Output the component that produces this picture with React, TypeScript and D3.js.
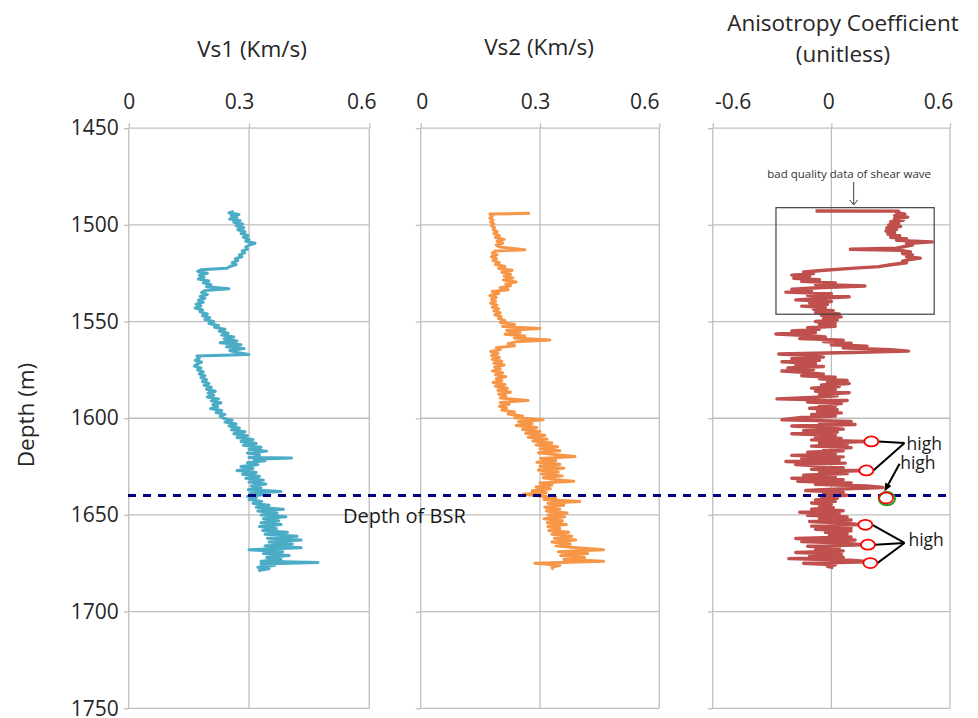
import { useEffect, useRef } from 'react';
import * as d3 from 'd3';

// [depth (m), value]
const vs1Data: [number, number][] = [
  [1493.0,0.262],[1493.8,0.250],[1494.6,0.275],[1495.4,0.256],[1496.2,0.270],[1497.0,0.252],[1497.8,0.278],[1498.6,0.262],
  [1499.5,0.284],[1500.5,0.268],[1501.5,0.287],[1502.5,0.272],[1503.5,0.290],[1504.5,0.280],[1505.5,0.298],[1506.5,0.286],
  [1507.5,0.300],[1508.5,0.292],[1509.5,0.315],[1510.5,0.300],[1511.5,0.292],[1512.5,0.296],[1513.5,0.283],[1514.5,0.289],
  [1515.5,0.276],[1516.5,0.282],[1517.5,0.266],[1518.5,0.272],[1519.5,0.258],[1520.5,0.268],[1521.5,0.252],[1522.4,0.245],
  [1523.2,0.180],[1524.0,0.172],[1525.0,0.196],[1526.0,0.176],[1527.0,0.188],[1528.0,0.174],[1529.0,0.200],[1530.0,0.186],
  [1531.0,0.205],[1532.0,0.194],[1533.0,0.250],[1534.0,0.190],[1535.0,0.182],[1536.0,0.196],[1537.0,0.178],[1538.0,0.190],
  [1539.0,0.174],[1540.0,0.186],[1541.0,0.168],[1542.0,0.180],[1543.0,0.166],[1544.0,0.184],[1545.0,0.178],[1546.0,0.196],
  [1547.0,0.184],[1548.0,0.202],[1549.0,0.190],[1550.0,0.212],[1551.0,0.200],[1552.0,0.224],[1553.0,0.214],[1554.0,0.240],
  [1555.0,0.226],[1556.0,0.248],[1557.0,0.232],[1558.0,0.262],[1559.0,0.238],[1560.0,0.270],[1561.0,0.228],[1562.0,0.280],
  [1563.0,0.244],[1564.0,0.288],[1565.0,0.252],[1566.0,0.270],[1567.0,0.300],[1567.8,0.170],[1569.0,0.176],[1570.0,0.166],
  [1571.0,0.182],[1572.0,0.170],[1573.0,0.164],[1574.0,0.180],[1575.0,0.172],[1576.0,0.186],[1577.0,0.176],[1578.0,0.190],
  [1579.0,0.180],[1580.0,0.194],[1581.0,0.184],[1582.0,0.200],[1583.0,0.188],[1584.0,0.206],[1585.0,0.194],[1586.0,0.216],
  [1587.0,0.198],[1588.0,0.212],[1589.0,0.196],[1590.0,0.224],[1591.0,0.206],[1592.0,0.230],[1593.0,0.210],[1594.0,0.222],
  [1595.0,0.204],[1596.0,0.232],[1597.0,0.218],[1598.0,0.240],[1599.0,0.228],[1600.0,0.236],[1601.0,0.258],[1602.0,0.240],
  [1603.0,0.268],[1604.0,0.250],[1605.0,0.276],[1606.0,0.256],[1607.0,0.290],[1608.0,0.262],[1609.0,0.296],[1610.0,0.270],
  [1611.0,0.310],[1612.0,0.280],[1613.0,0.318],[1614.0,0.286],[1615.0,0.330],[1616.0,0.300],[1617.0,0.344],[1618.0,0.296],
  [1619.0,0.326],[1620.3,0.300],[1620.6,0.406],[1621.2,0.312],[1622.0,0.340],[1623.0,0.296],[1624.0,0.322],[1625.0,0.280],
  [1626.0,0.310],[1627.0,0.270],[1628.0,0.318],[1629.0,0.284],[1630.0,0.326],[1631.0,0.292],[1632.0,0.336],[1633.0,0.300],
  [1634.0,0.342],[1635.0,0.306],[1636.0,0.330],[1637.0,0.298],[1637.9,0.380],[1638.8,0.304],[1639.6,0.334],[1640.4,0.296],
  [1641.2,0.318],[1642.0,0.300],[1643.0,0.332],[1644.0,0.310],[1645.0,0.350],[1646.0,0.318],[1647.0,0.386],[1648.0,0.322],
  [1649.0,0.370],[1650.0,0.330],[1651.0,0.392],[1652.0,0.336],[1653.0,0.374],[1654.0,0.330],[1655.0,0.380],[1656.0,0.326],
  [1657.0,0.368],[1658.0,0.334],[1659.0,0.396],[1660.0,0.340],[1661.0,0.420],[1662.0,0.346],[1663.0,0.430],[1664.0,0.350],
  [1665.0,0.408],[1666.0,0.340],[1667.0,0.430],[1668.0,0.300],[1669.0,0.384],[1670.0,0.336],[1671.0,0.400],[1672.0,0.344],
  [1673.0,0.380],[1674.0,0.330],[1674.6,0.472],[1675.4,0.330],[1676.2,0.364],[1677.0,0.322],[1677.8,0.350],[1678.6,0.326],
  [1679.2,0.330]
];

const vs2Data: [number, number][] = [
  [1494.0,0.275],[1494.4,0.174],[1495.5,0.180],[1496.5,0.174],[1497.5,0.182],[1498.5,0.176],[1499.5,0.184],[1500.5,0.178],
  [1501.5,0.186],[1502.5,0.182],[1503.5,0.192],[1504.5,0.184],[1505.5,0.198],[1506.5,0.188],[1507.5,0.210],[1508.5,0.192],
  [1509.5,0.206],[1510.5,0.190],[1511.5,0.200],[1512.8,0.262],[1513.5,0.188],[1514.5,0.180],[1515.5,0.192],[1516.5,0.178],
  [1517.5,0.190],[1518.5,0.182],[1519.5,0.198],[1520.5,0.188],[1521.5,0.212],[1522.5,0.196],[1523.5,0.230],[1524.5,0.204],
  [1525.5,0.226],[1526.5,0.210],[1527.5,0.232],[1528.5,0.208],[1529.5,0.240],[1530.5,0.214],[1531.5,0.226],[1532.5,0.200],
  [1533.5,0.220],[1534.5,0.180],[1535.5,0.196],[1536.5,0.174],[1537.5,0.190],[1538.5,0.178],[1539.5,0.188],[1540.5,0.176],
  [1541.5,0.192],[1542.5,0.180],[1543.5,0.196],[1544.5,0.184],[1545.5,0.200],[1546.5,0.186],[1547.5,0.202],[1548.5,0.196],
  [1549.5,0.212],[1550.5,0.200],[1551.5,0.236],[1552.5,0.206],[1553.6,0.300],[1554.5,0.216],[1555.5,0.250],[1556.5,0.212],
  [1557.5,0.262],[1558.5,0.236],[1559.5,0.325],[1560.5,0.240],[1561.5,0.220],[1562.5,0.236],[1563.5,0.190],[1564.5,0.200],
  [1565.5,0.176],[1566.5,0.194],[1567.5,0.178],[1568.5,0.198],[1569.5,0.180],[1570.5,0.204],[1571.5,0.184],[1572.5,0.210],
  [1573.5,0.186],[1574.5,0.200],[1575.5,0.180],[1576.5,0.206],[1577.5,0.188],[1578.5,0.214],[1579.5,0.190],[1580.5,0.204],
  [1581.5,0.182],[1582.5,0.212],[1583.5,0.188],[1584.5,0.218],[1585.5,0.194],[1586.5,0.226],[1587.5,0.196],[1588.5,0.214],
  [1589.5,0.200],[1590.8,0.270],[1591.8,0.200],[1592.8,0.222],[1593.8,0.198],[1594.8,0.216],[1595.8,0.204],[1596.8,0.236],
  [1597.8,0.220],[1598.8,0.256],[1599.8,0.236],[1600.8,0.308],[1601.8,0.246],[1602.8,0.280],[1603.8,0.240],[1604.8,0.292],
  [1605.8,0.256],[1606.8,0.300],[1607.8,0.264],[1608.8,0.312],[1609.8,0.270],[1610.8,0.318],[1611.8,0.282],[1612.8,0.330],
  [1613.8,0.290],[1614.8,0.344],[1615.8,0.300],[1616.8,0.350],[1617.8,0.296],[1618.8,0.336],[1619.8,0.388],[1620.8,0.302],
  [1621.8,0.340],[1622.8,0.292],[1623.8,0.350],[1624.8,0.300],[1625.8,0.360],[1626.8,0.296],[1627.8,0.346],[1628.8,0.304],
  [1629.8,0.356],[1630.8,0.308],[1631.8,0.340],[1632.6,0.385],[1633.5,0.300],[1634.5,0.330],[1635.5,0.290],[1636.5,0.326],
  [1637.5,0.280],[1638.5,0.316],[1639.3,0.258],[1640.2,0.300],[1641.0,0.340],[1642.0,0.310],[1643.0,0.400],[1644.0,0.320],
  [1645.0,0.360],[1646.0,0.312],[1647.0,0.350],[1648.0,0.316],[1649.0,0.368],[1650.0,0.320],[1651.0,0.362],[1652.0,0.310],
  [1653.0,0.356],[1654.0,0.318],[1655.0,0.366],[1656.0,0.320],[1657.0,0.350],[1658.0,0.322],[1659.0,0.372],[1660.0,0.330],
  [1661.0,0.380],[1662.0,0.336],[1663.0,0.390],[1664.0,0.330],[1665.0,0.376],[1666.0,0.340],[1667.0,0.392],[1668.0,0.460],
  [1669.0,0.346],[1670.0,0.420],[1671.0,0.352],[1672.0,0.412],[1673.0,0.360],[1674.0,0.460],[1675.0,0.287],[1676.0,0.350],
  [1677.0,0.330],[1678.3,0.334]
];

const anisoData: [number, number][] = [
  [1492.8,-0.080],[1492.9,0.340],[1493.6,0.330],[1494.4,0.372],[1495.2,0.320],[1496.0,0.386],[1496.8,0.318],[1497.6,0.364],
  [1498.4,0.300],[1499.2,0.340],[1500.0,0.290],[1500.8,0.350],[1501.6,0.280],[1502.4,0.330],[1503.2,0.276],[1504.0,0.320],
  [1504.8,0.286],[1505.6,0.346],[1506.4,0.300],[1507.2,0.380],[1508.0,0.330],[1508.8,0.510],[1509.6,0.380],[1510.4,0.410],
  [1511.2,0.370],[1512.0,0.330],[1512.6,0.096],[1513.2,0.350],[1514.0,0.400],[1514.8,0.360],[1515.6,0.410],[1516.4,0.380],
  [1517.2,0.450],[1518.0,0.396],[1518.8,0.360],[1519.6,0.380],[1520.6,0.300],[1521.6,0.240],[1522.6,0.080],[1523.6,-0.050],
  [1524.4,-0.140],[1525.2,-0.090],[1526.0,-0.200],[1526.8,-0.110],[1527.6,-0.190],[1528.4,-0.060],[1529.2,-0.150],[1530.0,0.020],
  [1530.8,-0.080],[1531.6,0.170],[1532.4,-0.040],[1533.2,-0.200],[1534.0,-0.100],[1534.8,-0.230],[1535.6,0.000],[1536.4,-0.120],
  [1537.2,0.090],[1538.0,-0.060],[1538.8,-0.180],[1539.6,0.000],[1540.4,-0.110],[1541.2,-0.020],[1542.0,-0.150],[1542.8,-0.030],
  [1543.6,-0.090],[1544.4,0.010],[1545.2,-0.080],[1546.0,0.040],[1546.8,-0.050],[1547.6,0.050],[1548.4,-0.040],[1549.2,0.030],
  [1550.0,-0.080],[1550.8,0.020],[1551.6,-0.060],[1552.4,0.020],[1553.2,-0.120],[1554.0,-0.060],[1554.8,-0.200],[1555.6,-0.080],
  [1556.4,-0.280],[1557.2,-0.120],[1558.0,-0.030],[1558.8,-0.160],[1559.6,0.060],[1560.4,-0.040],[1561.2,0.100],[1562.0,0.000],
  [1562.8,0.180],[1563.6,0.060],[1564.6,0.300],[1565.3,0.390],[1566.0,0.100],[1566.8,-0.266],[1567.6,-0.100],[1568.4,-0.040],
  [1569.2,-0.200],[1570.0,-0.060],[1570.8,-0.250],[1571.6,-0.080],[1572.4,-0.180],[1573.2,-0.040],[1574.0,-0.220],[1574.8,-0.090],
  [1575.6,-0.250],[1576.4,-0.120],[1577.2,-0.040],[1578.0,-0.150],[1578.8,0.020],[1579.6,-0.060],[1580.4,0.080],[1581.2,-0.020],
  [1582.0,0.090],[1582.8,-0.050],[1583.6,0.040],[1584.4,-0.100],[1585.2,0.020],[1586.0,-0.080],[1586.8,0.090],[1587.6,-0.060],
  [1588.4,0.030],[1589.2,-0.100],[1590.0,-0.275],[1590.8,0.080],[1591.6,-0.120],[1592.4,0.050],[1593.2,-0.060],[1594.0,0.020],
  [1594.8,-0.110],[1595.6,0.030],[1596.4,-0.070],[1597.2,0.050],[1598.0,-0.100],[1598.8,0.020],[1599.6,-0.150],[1600.8,-0.250],
  [1601.6,0.100],[1602.4,-0.060],[1603.2,0.120],[1604.0,-0.200],[1604.8,-0.040],[1605.6,0.060],[1606.4,-0.140],[1607.2,0.030],
  [1608.0,-0.200],[1608.8,0.020],[1609.6,-0.080],[1610.4,0.050],[1611.2,-0.100],[1612.0,0.170],[1612.8,-0.060],[1613.6,0.080],
  [1614.4,-0.100],[1615.2,0.100],[1616.0,-0.040],[1616.8,0.060],[1617.6,-0.120],[1618.4,0.020],[1619.2,-0.200],[1620.0,0.060],
  [1620.8,-0.150],[1621.6,0.040],[1622.4,-0.230],[1623.2,0.070],[1624.0,-0.180],[1624.8,-0.020],[1625.6,0.060],[1626.4,-0.100],
  [1627.0,0.170],[1627.8,-0.060],[1628.6,0.080],[1629.4,-0.140],[1630.2,0.020],[1631.0,-0.200],[1631.8,0.060],[1632.6,-0.170],
  [1633.4,0.100],[1634.2,-0.080],[1635.0,0.180],[1635.8,0.260],[1636.6,0.040],[1637.4,-0.130],[1638.2,0.060],[1639.0,-0.040],
  [1639.8,0.080],[1640.6,-0.050],[1641.4,0.030],[1642.2,-0.080],[1643.0,0.020],[1643.8,-0.100],[1644.6,0.000],[1645.4,-0.060],
  [1646.2,0.010],[1647.0,-0.100],[1647.8,0.060],[1648.6,-0.160],[1649.4,0.040],[1650.2,-0.120],[1651.0,0.080],[1651.8,-0.060],
  [1652.6,0.100],[1653.4,-0.110],[1654.2,0.060],[1655.0,0.150],[1655.8,-0.100],[1656.6,0.100],[1657.4,-0.080],[1658.2,0.100],
  [1659.0,-0.030],[1659.8,0.080],[1660.6,-0.010],[1661.4,0.100],[1662.2,-0.180],[1663.0,0.120],[1663.8,-0.150],[1664.6,0.060],
  [1665.4,0.160],[1666.2,-0.120],[1667.0,0.040],[1667.8,-0.080],[1668.6,0.060],[1669.4,-0.180],[1670.2,0.050],[1671.0,-0.110],
  [1671.8,0.060],[1672.6,-0.215],[1673.4,0.100],[1674.2,0.190],[1675.0,-0.140],[1675.8,0.020],[1676.6,-0.020],[1677.2,0.010]
];

const depthTicks = [1450, 1500, 1550, 1600, 1650, 1700, 1750];
const velTicks = [0, 0.3, 0.6];
const anisoTicks = [-0.6, 0, 0.6];
const bsrDepth = 1640;

// "high" markers on the anisotropy log: [value, depth]
const highPoints: [number, number][] = [[0.202, 1612.0], [0.177, 1627.0], [0.172, 1655.1], [0.185, 1665.4], [0.197, 1674.9]];
const bsrHighPoint: [number, number] = [0.281, 1641.6];

const FONT = '"Open Sans", sans-serif';
const GRID = '#bfbfbf';

const App = () => {
  const svgRef = useRef<SVGSVGElement>(null);

  useEffect(() => {
    if (!svgRef.current) return;
    const svg = d3.select(svgRef.current);
    svg.selectAll('*').remove();

    const y = d3.scaleLinear().domain([1450, 1750]).range([128.2, 708.3]);

    const panels = [
      { title: ['Vs1 (Km/s)'], titleX: 252, titleY: [57], domain: [0, 0.6], ticks: velTicks,
        range: [128.7, 369.3], data: vs1Data, color: '#4bacc6', labels: true, dx: [0, -10, -8], width: 3 },
      { title: ['Vs2 (Km/s)'], titleX: 539, titleY: [55], domain: [0, 0.6], ticks: velTicks,
        range: [420.7, 659.3], data: vs2Data, color: '#f79646', labels: false, dx: [1, -5, -15], width: 3 },
      { title: ['Anisotropy Coefficient', '(unitless)'], titleX: 843, titleY: [31, 62], domain: [-0.6, 0.6], ticks: anisoTicks,
        range: [712.7, 950], data: anisoData, color: '#c0504d', labels: false, dx: [20, -3, -12], width: 3.4 }
    ];

    const scales: d3.ScaleLinear<number, number>[] = [];

    panels.forEach(p => {
      const x = d3.scaleLinear().domain(p.domain).range(p.range);
      scales.push(x);
      const g = svg.append('g');

      // Grid
      g.selectAll('.hgrid')
        .data(depthTicks)
        .join('line')
        .attr('x1', p.range[0]).attr('x2', p.range[1])
        .attr('y1', d => y(d)).attr('y2', d => y(d))
        .attr('stroke', GRID).attr('stroke-width', 1.3);
      g.selectAll('.vgrid')
        .data(p.ticks)
        .join('line')
        .attr('x1', d => x(d)).attr('x2', d => x(d))
        .attr('y1', y(1450)).attr('y2', y(1750))
        .attr('stroke', GRID).attr('stroke-width', 1.3);

      // Top axis
      const top = g.append('g')
        .attr('transform', `translate(0,${y(1450)})`)
        .call(d3.axisTop(x).tickValues(p.ticks).tickSize(5).tickPadding(14).tickFormat(d => String(+d)));
      top.select('.domain').remove();
      top.selectAll('.tick line').attr('stroke', GRID).attr('stroke-width', 1.3);
      top.selectAll('.tick text')
        .attr('dx', (_d, i) => p.dx[i])
        .style('font-family', FONT).style('font-size', '21px').attr('fill', '#262626');

      // Left axis
      const left = g.append('g')
        .attr('transform', `translate(${p.range[0]},0)`)
        .call(d3.axisLeft(y).tickValues(depthTicks).tickSize(5).tickPadding(5).tickFormat(d => String(+d)));
      left.select('.domain').remove();
      left.selectAll('.tick line').attr('stroke', GRID).attr('stroke-width', 1.3);
      if (p.labels) {
        left.selectAll('.tick text')
          .style('font-family', FONT).style('font-size', '21px').attr('fill', '#262626');
      } else {
        left.selectAll('.tick text').remove();
      }

      // Title
      p.title.forEach((t, i) => {
        g.append('text')
          .attr('x', p.titleX).attr('y', p.titleY[i])
          .attr('text-anchor', 'middle')
          .style('font-family', FONT).style('font-size', '22.5px')
          .attr('fill', '#262626')
          .text(t);
      });

      // Log curve
      const line = d3.line<[number, number]>()
        .x(d => x(d[1]))
        .y(d => y(d[0]));
      g.append('path')
        .datum(p.data)
        .attr('fill', 'none')
        .attr('stroke', p.color)
        .attr('stroke-width', p.width)
        .attr('stroke-linejoin', 'round')
        .attr('d', line);
    });

    // Depth label
    svg.append('text')
      .attr('transform', `translate(34,415) rotate(-90)`)
      .attr('text-anchor', 'middle')
      .style('font-family', FONT).style('font-size', '22.5px')
      .attr('fill', '#262626')
      .text('Depth (m)');

    // BSR line
    svg.append('line')
      .attr('x1', 128).attr('x2', 950)
      .attr('y1', y(bsrDepth)).attr('y2', y(bsrDepth))
      .attr('stroke', '#000080').attr('stroke-width', 3)
      .attr('stroke-dasharray', '8 7');
    svg.append('text')
      .attr('x', 343).attr('y', y(bsrDepth) + 27.5)
      .style('font-family', FONT).style('font-size', '20px')
      .attr('fill', '#1a1a1a')
      .text('Depth of BSR');

    // Annotations on anisotropy panel
    const xa = scales[2];
    const ann = svg.append('g');

    ann.append('rect')
      .attr('x', xa(-0.28)).attr('y', y(1491.1))
      .attr('width', xa(0.52) - xa(-0.28)).attr('height', y(1546.2) - y(1491.1))
      .attr('fill', 'none').attr('stroke', '#404040').attr('stroke-width', 1.2);
    ann.append('text')
      .attr('x', xa(0.09)).attr('y', y(1475.8))
      .attr('text-anchor', 'middle')
      .style('font-family', FONT).style('font-size', '11.5px')
      .attr('fill', '#333')
      .text('bad quality data of shear wave');
    ann.append('line')
      .attr('x1', xa(0.113)).attr('x2', xa(0.113))
      .attr('y1', y(1477.8)).attr('y2', y(1489.7))
      .attr('stroke', '#404040').attr('stroke-width', 1);
    ann.append('path')
      .attr('d', `M${xa(0.113) - 4},${y(1489.7) - 5} L${xa(0.113)},${y(1489.7)} L${xa(0.113) + 4},${y(1489.7) - 5}`)
      .attr('fill', 'none').attr('stroke', '#404040').attr('stroke-width', 1);

    // leader lines to "high"
    const hubTop: [number, number] = [xa(0.37), y(1612.8)];
    const hubBottom: [number, number] = [xa(0.37), y(1664.5)];
    highPoints.forEach((pt, i) => {
      const hub = i < 2 ? hubTop : hubBottom;
      ann.append('line')
        .attr('x1', xa(pt[0]) + 7).attr('y1', y(pt[1]))
        .attr('x2', hub[0]).attr('y2', hub[1])
        .attr('stroke', '#000').attr('stroke-width', 2);
    });
    // arrow to BSR high point
    const ax1 = xa(0.345), ay1 = y(1623.5), ax2 = xa(0.268), ay2 = y(1637.9);
    const ang = Math.atan2(ay2 - ay1, ax2 - ax1);
    ann.append('line')
      .attr('x1', ax1).attr('y1', ay1).attr('x2', ax2 - 5 * Math.cos(ang)).attr('y2', ay2 - 5 * Math.sin(ang))
      .attr('stroke', '#000').attr('stroke-width', 2);
    ann.append('path')
      .attr('d', `M${ax2},${ay2} L${ax2 - 9 * Math.cos(ang - 0.4)},${ay2 - 9 * Math.sin(ang - 0.4)} L${ax2 - 9 * Math.cos(ang + 0.4)},${ay2 - 9 * Math.sin(ang + 0.4)} Z`)
      .attr('fill', '#000');

    highPoints.forEach(pt => {
      ann.append('ellipse')
        .attr('cx', xa(pt[0])).attr('cy', y(pt[1]))
        .attr('rx', 7).attr('ry', 5)
        .attr('fill', '#fff').attr('stroke', '#ff0000').attr('stroke-width', 1.8);
    });
    ann.append('ellipse')
      .attr('cx', xa(bsrHighPoint[0])).attr('cy', y(bsrHighPoint[1]))
      .attr('rx', 8).attr('ry', 6.5)
      .attr('fill', '#fff').attr('stroke', '#2e9e2e').attr('stroke-width', 2.2);
    ann.append('ellipse')
      .attr('cx', xa(bsrHighPoint[0]) - 0.8).attr('cy', y(bsrHighPoint[1]) - 0.8)
      .attr('rx', 7).attr('ry', 5.5)
      .attr('fill', 'none').attr('stroke', '#ff0000').attr('stroke-width', 1.6);

    const highLabels: [number, number][] = [[0.38, 1616.3], [0.348, 1626.3], [0.39, 1666.3]];
    highLabels.forEach(([v, d]) => {
      ann.append('text')
        .attr('x', xa(v)).attr('y', y(d))
        .style('font-family', FONT).style('font-size', '17.5px')
        .attr('fill', '#1a1a1a')
        .text('high');
    });
  }, []);

  return (
    <svg
      ref={svgRef}
      width={978}
      height={718}
      style={{ position: 'absolute', left: 0, top: 0, background: '#fff' }}
    />
  );
};

export default App;
